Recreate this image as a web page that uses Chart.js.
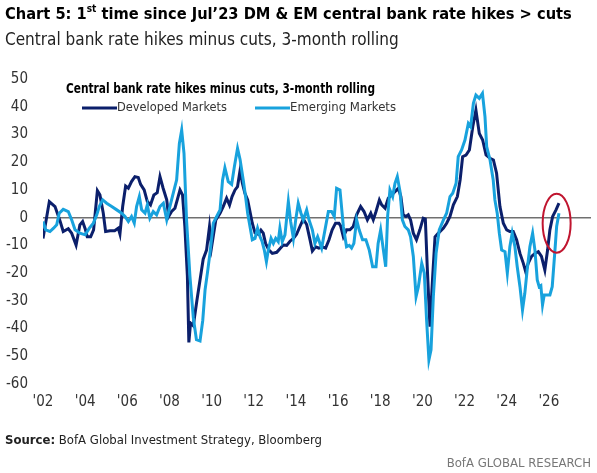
<!DOCTYPE html>
<html>
<head>
<meta charset="utf-8">
<script src="https://cdn.jsdelivr.net/npm/chart.js@4.4.1/dist/chart.umd.min.js"></script>
<style>
  html, body { margin: 0; padding: 0; background: #fff; }
  #wrap { position: relative; width: 597px; height: 473px; overflow: hidden;
          font-family: "Liberation Sans Narrow", "DejaVu Sans Condensed", sans-serif; }
  #chart { position: absolute; left: 0; top: 0; }
  .title { position: absolute; left: 5px; top: 4px; font-size: 16.3px; font-weight: bold; color: #000; white-space: nowrap; }
  .title sup { font-size: 10px; vertical-align: 7px; line-height: 0; }
  .subtitle { position: absolute; left: 5px; top: 29px; font-size: 17px; color: #222; white-space: nowrap; }
  .source { position: absolute; left: 5px; top: 432px; font-size: 13px; color: #222; white-space: nowrap; }
  .brand { position: absolute; right: 6px; top: 455px; font-size: 13px; color: #777; white-space: nowrap; }
</style>
</head>
<body>
<div id="wrap">
  <canvas id="chart" width="597" height="473"></canvas>
  <div class="title">Chart 5: 1<sup>st</sup> time since Jul’23 DM &amp; EM central bank rate hikes &gt; cuts</div>
  <div class="subtitle">Central bank rate hikes minus cuts, 3-month rolling</div>
  <div class="source"><b>Source:</b> BofA Global Investment Strategy, Bloomberg</div>
  <div class="brand">BofA GLOBAL RESEARCH</div>
</div>
<script>
// Central bank rate hikes minus cuts, 3-month rolling
const dmDates = [
  2002.0, 2002.3, 2002.57, 2002.8, 2002.96, 2003.2, 2003.36, 2003.57, 2003.75, 2003.88,
  2004.0, 2004.1, 2004.26, 2004.4, 2004.58, 2004.7, 2004.86, 2004.97, 2005.18, 2005.4,
  2005.57, 2005.65, 2005.78, 2005.92, 2006.05, 2006.2, 2006.36, 2006.52, 2006.63, 2006.8,
  2006.95, 2007.1, 2007.26, 2007.42, 2007.55, 2007.7, 2007.87, 2007.96, 2008.1, 2008.26,
  2008.37, 2008.5, 2008.62, 2008.73, 2008.85, 2008.92, 2009.0, 2009.13, 2009.3, 2009.45,
  2009.6, 2009.76, 2009.9, 2010.0, 2010.2, 2010.4, 2010.55,
  2010.71, 2010.85, 2010.97, 2011.11, 2011.23, 2011.35, 2011.46, 2011.58, 2011.71, 2011.82,
  2011.93, 2012.06, 2012.22, 2012.34, 2012.45, 2012.56, 2012.72, 2012.88, 2013.09, 2013.24,
  2013.4, 2013.56, 2013.72, 2013.88, 2014.03, 2014.19, 2014.35, 2014.51, 2014.67, 2014.78,
  2014.93, 2015.09, 2015.25, 2015.41, 2015.57, 2015.72, 2015.88, 2016.04, 2016.12,
  2016.25, 2016.4, 2016.56, 2016.72, 2016.88, 2017.07, 2017.23, 2017.39, 2017.55, 2017.67,
  2017.8, 2017.96, 2018.07, 2018.23, 2018.38, 2018.54, 2018.7, 2018.86, 2018.98, 2019.09,
  2019.22, 2019.33, 2019.44, 2019.57, 2019.72, 2019.88, 2020.04, 2020.14, 2020.23, 2020.36,
  2020.49, 2020.6, 2020.76, 2021.0, 2021.15, 2021.31, 2021.47, 2021.66, 2021.79, 2021.91,
  2022.07, 2022.23, 2022.39, 2022.54, 2022.7, 2022.86, 2023.02, 2023.21, 2023.37, 2023.52,
  2023.68, 2023.84, 2024.0, 2024.15, 2024.31, 2024.47, 2024.63, 2024.79, 2024.9, 2025.02,
  2025.18, 2025.34, 2025.5, 2025.65, 2025.81, 2025.94, 2026.05, 2026.18, 2026.34, 2026.48
];
const dmValues = [
  -7.5, 5.8, 4, -1, -5, -4, -5.6, -9.9, -2.6, -1.4,
  -4, -6.9, -6.9, -4.4, 9.7, 8.2, 1.6, -5, -4.7, -4.7,
  -3.8, -5.9, 4, 11.4, 10.6, 13, 14.8, 14.5, 12, 10,
  5.8, 4.6, 8.2, 9, 14.8, 10.6, 6.4, 0.4, 2.2, 3.4,
  6.4, 10, 8.2, -3.2, -21, -45, -38, -39, -30, -22.5,
  -15, -11.7, -3.2, -10.5, -0.8, 1.6, 4,
  7, 4.5, 7.6, 10, 11.2, 17, 12.4, 8.8, 6.4, 2.2,
  -2, -5.5, -6, -4.5, -5.6, -9.3, -11.7, -12.9, -12.5, -11.2,
  -9.9, -10, -8.5, -7.5, -6, -3.2, -0.5, -2.5, -8, -12,
  -10.5, -11, -10.5, -11, -8, -4.4, -2, -2, -3,
  -6.9, -4.4, -4.4, -3.2, 1, 4, 2.2, -0.8, 1.6, -0.8,
  2.2, 6.4, 4.6, 3.4, 7, 8.2, 9.4, 10.6, 7.6, 1,
  0.4, 1, -0.8, -5.6, -8, -4.4, -0.2, -0.5, -17.7, -39.3,
  -21, -6.9, -5.6, -3.8, -2, 0.4, 4.6, 7.6, 13.6, 22,
  22.6, 24.4, 32.8, 38.8, 30.4, 28, 22.6, 21.4, 20.8, 16,
  4, -2, -4.4, -5, -5, -8, -12.9, -16.5, -19.5, -16.5,
  -14, -12.9, -12.3, -14, -18.9, -11.7, -4.4, 0.4, 2.8, 5.2
];
const emDates = [
  2002.0, 2002.13, 2002.33, 2002.5, 2002.65, 2002.77, 2002.96, 2003.2, 2003.36, 2003.52,
  2003.75, 2004.0, 2004.2, 2004.39, 2004.55, 2004.67, 2004.83, 2005.02, 2005.26, 2005.5,
  2005.73, 2005.89, 2006.05, 2006.2, 2006.33, 2006.44, 2006.57, 2006.68, 2006.84, 2006.95,
  2007.07, 2007.23, 2007.39, 2007.55, 2007.71, 2007.87, 2008.02, 2008.18, 2008.34, 2008.47,
  2008.58, 2008.69, 2008.81, 2008.97, 2009.13, 2009.28, 2009.45, 2009.58, 2009.69, 2009.8,
  2009.92, 2010.08, 2010.24, 2010.4, 2010.52,
  2010.63, 2010.79, 2010.95, 2011.08, 2011.23, 2011.35, 2011.5, 2011.61, 2011.71, 2011.82,
  2011.93, 2012.06, 2012.18, 2012.3, 2012.4, 2012.5, 2012.6, 2012.69, 2012.82, 2012.93,
  2013.04, 2013.16, 2013.24, 2013.35, 2013.48, 2013.64, 2013.75, 2013.88, 2013.99, 2014.11,
  2014.24, 2014.35, 2014.51, 2014.62, 2014.78, 2014.9, 2015.03, 2015.22, 2015.38, 2015.54,
  2015.69, 2015.82, 2015.93, 2016.09,
  2016.25, 2016.4, 2016.53, 2016.64, 2016.75, 2016.88, 2017.0, 2017.16, 2017.32, 2017.48,
  2017.64, 2017.8, 2017.9, 2018.02, 2018.15, 2018.26, 2018.35, 2018.46, 2018.59, 2018.7,
  2018.81, 2018.94, 2019.05, 2019.17, 2019.33, 2019.44, 2019.57, 2019.7, 2019.81, 2019.97,
  2020.09, 2020.2, 2020.31, 2020.41, 2020.52, 2020.65, 2020.8, 2021.0, 2021.15, 2021.31,
  2021.44, 2021.6, 2021.7, 2021.86, 2022.02, 2022.18, 2022.29, 2022.42, 2022.54, 2022.7,
  2022.85, 2022.97, 2023.05, 2023.21, 2023.36, 2023.44, 2023.55, 2023.65, 2023.76, 2023.92,
  2024.03, 2024.15, 2024.26, 2024.39, 2024.5, 2024.63, 2024.75, 2024.86, 2024.97, 2025.1,
  2025.23, 2025.34, 2025.45, 2025.54, 2025.62, 2025.7, 2025.78, 2026.05, 2026.16, 2026.29,
  2026.37, 2026.48
];
const emValues = [
  -1.4, -4.4, -5, -3.8, -2.6, 1.6, 3, 2.2, -0.8, -4.4,
  -5.6, -6.2, -3.8, -2, 1, 4, 6.4, 5.2, 4, 2.8,
  1.6, 0.4, -1.4, 0.4, -2, 4, 7.6, 2.8, 1.6, 4.6,
  -0.2, 2.2, 1, 4, 5.2, -0.8, 4, 8.8, 13.6, 26.8,
  31.6, 23.2, -0.8, -21, -36, -44, -44.5, -37, -26, -20,
  -12.9, -2, 0.4, 2.8, 13.6,
  18, 13, 12, 18.4, 25, 21, 13.6, 7.6, 1.6, -3.2,
  -8, -7.5, -3.8, -6.9, -8.7, -11.7, -15.9, -11.7, -7.5, -9.3,
  -7.5, -8.7, -3.8, -8.7, -6.2, 5.8, -1.4, -7.5, -0.8, 5.2,
  1.6, -0.8, 2.8, -0.8, -4.4, -9.3, -6.9, -11, -4.4, 2.2,
  2.2, 0.4, 10.6, 10,
  -3.2, -10.5, -10, -11, -9.3, -0.8, -4.4, -8, -8, -11.7,
  -17.7, -17.7, -9.3, -4.4, -11.7, -17.7, 0.4, 10, 7.6, 12.4,
  14.8, 9.4, -0.8, -3.2, -4.4, -6.9, -14, -28.5, -24.9, -16.5,
  -20, -37, -51.3, -47.7, -28.5, -12.9, -4.4, -0.8, 1.6, 7.6,
  8.8, 12.4, 22, 24.4, 28, 34, 32.8, 41.2, 44.2, 43,
  44.8, 36.4, 25.6, 20.8, 13.6, 6.4, 1.6, -5.6, -11.7, -12.3,
  -20, -10.5, -5.6, -10.5, -17.7, -24.9, -33.3, -27.3, -18.9, -10.5,
  -5.6, -11.7, -22.5, -24.9, -24.5, -31.5, -27.9, -27.9, -24.9, -11.7,
  -3.2, 1.6
];
const yearTicks = [2002, 2004, 2006, 2008, 2010, 2012, 2014, 2016, 2018, 2020, 2022, 2024, 2026];
const yearLabels = ["'02", "'04", "'06", "'08", "'10", "'12", "'14", "'16", "'18", "'20", "'22", "'24", "'26"];
const seriesNames = ["Developed Markets", "Emerging Markets"];
const legendTitle = "Central bank rate hikes minus cuts, 3-month rolling";
// latest turn above zero, circled in red
const highlight = { year: 2026.37, value: -2 };

const FONT = "'Liberation Sans Narrow', 'DejaVu Sans Condensed', sans-serif";
Chart.defaults.font.family = FONT;

const toPoints = (xs, ys) => xs.map((x, i) => ({ x: x, y: ys[i] }));

// draw text squeezed to a given width if it runs wider
function fitText(ctx, text, x, y, maxW) {
  const w = ctx.measureText(text).width;
  const k = w > maxW ? maxW / w : 1;
  ctx.save();
  ctx.translate(x, y);
  ctx.scale(k, 1);
  ctx.fillText(text, 0, 0);
  ctx.restore();
}

const overlay = {
  id: "overlay",
  afterDraw(chart) {
    const { ctx, chartArea, scales } = chart;
    ctx.save();
    // legend inside the plot
    ctx.textBaseline = "middle";
    ctx.fillStyle = "#000";
    ctx.font = "bold 13.5px " + FONT;
    fitText(ctx, legendTitle, chartArea.left + 23, chartArea.top + 10, 309);
    const starts = [39, 212];
    chart.data.datasets.forEach((ds, i) => {
      const x0 = chartArea.left + starts[i];
      const y0 = chartArea.top + 29;
      ctx.strokeStyle = ds.borderColor;
      ctx.lineWidth = 3;
      ctx.beginPath();
      ctx.moveTo(x0, y0);
      ctx.lineTo(x0 + 35, y0);
      ctx.stroke();
      ctx.fillStyle = "#333";
      ctx.font = "13px " + FONT;
      fitText(ctx, ds.label, x0 + 35, y0, 110);
    });
    // red ring
    ctx.strokeStyle = "#c0152f";
    ctx.lineWidth = 2;
    ctx.beginPath();
    ctx.ellipse(scales.x.getPixelForValue(highlight.year), scales.y.getPixelForValue(highlight.value),
      14, 29.5, 0, 0, Math.PI * 2);
    ctx.stroke();
    ctx.restore();
  }
};

new Chart(document.getElementById("chart"), {
  type: "line",
  data: {
    datasets: [
      {
        label: seriesNames[0],
        data: toPoints(dmDates, dmValues),
        borderColor: "#0b1f6b",
        borderWidth: 3,
        pointRadius: 0,
        tension: 0,
        order: 2,
      },
      {
        label: seriesNames[1],
        data: toPoints(emDates, emValues),
        borderColor: "#18a2dd",
        borderWidth: 3,
        pointRadius: 0,
        tension: 0,
        order: 1,
      },
    ],
  },
  options: {
    responsive: false,
    animation: false,
    layout: { padding: { top: 79, right: 6, bottom: 59, left: 0 } },
    plugins: {
      legend: { display: false },
      tooltip: { enabled: false },
    },
    scales: {
      x: {
        type: "linear",
        min: 2002,
        max: 2028,
        afterBuildTicks: (axis) => { axis.ticks = yearTicks.map((v) => ({ value: v })); },
        afterFit: (axis) => { axis.height = 30; },
        ticks: {
          autoSkip: false,
          maxRotation: 0,
          padding: 9,
          color: "#333",
          font: { size: 15 },
          callback: (v) => yearLabels[yearTicks.indexOf(v)],
        },
        grid: { display: false, drawTicks: false },
        border: { display: false },
      },
      y: {
        min: -60,
        max: 50,
        afterFit: (axis) => { axis.width = 43; },
        ticks: { stepSize: 10, padding: 15, color: "#333", font: { size: 15 } },
        grid: {
          drawTicks: false,
          lineWidth: 1.6,
          color: (c) => (c.tick && c.tick.value === 0 ? "#707070" : "rgba(0,0,0,0)"),
        },
        border: { display: false },
      },
    },
  },
  plugins: [overlay],
});
</script>
</body>
</html>
